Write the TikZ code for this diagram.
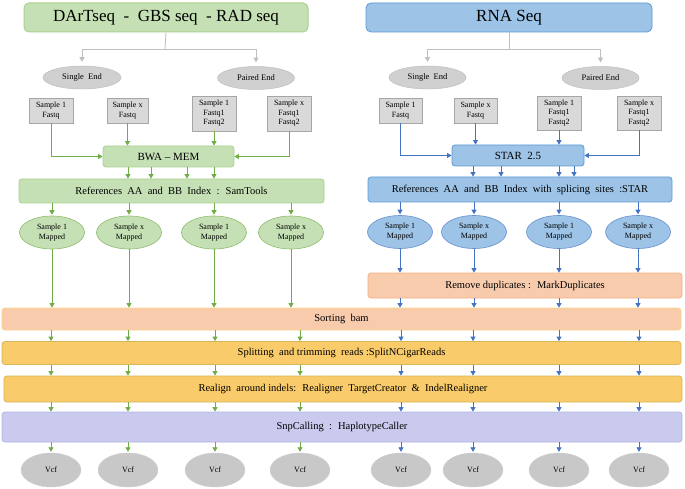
\documentclass[tikz,border=0pt]{standalone}
\usepackage{fontspec}
\setmainfont{Liberation Serif}
\usetikzlibrary{shapes.geometric,arrows.meta}
\definecolor{gfill}{HTML}{C5E0B4}
\definecolor{gline}{HTML}{A9D18E}
\definecolor{garrow}{HTML}{70AD47}
\definecolor{bfill}{HTML}{9DC3E6}
\definecolor{bline}{HTML}{5B9BD5}
\definecolor{barrow}{HTML}{4472C4}
\definecolor{sfill}{HTML}{D9D9D9}
\definecolor{sline}{HTML}{A6A6A6}
\definecolor{efill}{HTML}{D0D0D0}
\definecolor{eline}{HTML}{BFBFBF}
\definecolor{peach}{HTML}{F8CBAD}
\definecolor{peachline}{HTML}{F4B183}
\definecolor{gold}{HTML}{F9CB6B}
\definecolor{goldline}{HTML}{D6B656}
\definecolor{lav}{HTML}{C9CAEE}
\definecolor{lavline}{HTML}{B4B6E4}
\definecolor{vfill}{HTML}{C8C8C8}
\definecolor{grarrow}{HTML}{BFBFBF}
\tikzset{
  base/.style={inner sep=0pt, align=center, font=\fontsize{10.5}{12}\selectfont},
  titleG/.style={base, draw=gline, fill=gfill, line width=1pt, rounded corners=5pt, font=\fontsize{17}{20}\selectfont},
  titleB/.style={base, draw=bline, fill=bfill, line width=0.8pt, rounded corners=5pt, font=\fontsize{17}{20}\selectfont},
  boxG/.style={base, draw=gline, fill=gfill, line width=0.8pt, rounded corners=3pt},
  boxB/.style={base, draw=bline, fill=bfill, line width=0.8pt, rounded corners=3pt},
  endE/.style={base, ellipse, draw=eline, fill=efill, line width=0.5pt, font=\fontsize{8.5}{10}\selectfont},
  samp/.style={base, draw=sline, fill=sfill, line width=0.6pt, font=\fontsize{8}{9.5}\selectfont},
  mapG/.style={base, ellipse, draw=garrow!80, fill=gfill, line width=0.6pt, minimum width=65pt, minimum height=33pt, font=\fontsize{8}{10}\selectfont},
  mapB/.style={base, ellipse, draw=barrow!80, fill=bfill, line width=0.6pt, minimum width=65pt, minimum height=33pt, font=\fontsize{8}{10}\selectfont},
  bar/.style={base, rounded corners=3pt, line width=0.8pt},
  vcf/.style={base, ellipse, fill=vfill, draw=efill, line width=0.4pt, minimum width=60pt, minimum height=34pt, font=\fontsize{8}{10}\selectfont},
  garr/.style={draw=garrow, line width=0.8pt, -{Triangle[length=4.5pt,width=5pt]}},
  barr/.style={draw=barrow, line width=0.8pt, -{Triangle[length=4.5pt,width=5pt]}},
  grarr/.style={draw=grarrow, line width=0.8pt, -{Triangle[length=4.5pt,width=5pt]}},
  grline/.style={draw=grarrow, line width=0.8pt},
}
\begin{document}
\begin{tikzpicture}[x=1pt,y=-1pt]
\useasboundingbox[fill=white] (0,0) rectangle (685,489);
% titles
\node[titleG, minimum width=284pt, minimum height=29pt] (tL) at (166,17.5) {DArTseq \ - \ GBS seq \ - RAD seq};
\node[titleB, minimum width=286pt, minimum height=29pt] (tR) at (509,17.5) {RNA Seq};
% single/paired
\node[endE, minimum width=78pt, minimum height=23pt] (seL) at (82,77.5) {Single \ End};
\node[endE, minimum width=77pt, minimum height=23pt] (peL) at (256,78) {Paired End};
\node[endE, minimum width=77pt, minimum height=23pt] (seR) at (427.5,77.5) {Single \ End};
\node[endE, minimum width=77pt, minimum height=23pt] (peR) at (600.5,78) {Paired End};
\coordinate (jL) at (165,49);
\coordinate (jR) at (509,49);
\draw[grline] (tL.south) -- (jL);
\draw[grline] (tR.south) -- (jR);
\draw[grarr] (jL) -| ([yshift=4pt]seL.north);
\draw[grarr] (jL) -| ([yshift=4pt]peL.north);
\draw[grarr] (jR) -| ([yshift=4pt]seR.north);
\draw[grarr] (jR) -| ([yshift=4pt]peR.north);
% samples
\node[samp, minimum width=44pt, minimum height=25pt] (sL1) at (51,110.5) {Sample 1\\Fastq};
\node[samp, minimum width=41pt, minimum height=25pt] (sLx) at (127.5,110.5) {Sample x\\Fastq};
\node[samp, minimum width=44pt, minimum height=35pt] (sL1p) at (214,113.5) {Sample 1\\Fastq1\\Fastq2};
\node[samp, minimum width=44pt, minimum height=35pt] (sLxp) at (289,113.5) {Sample x\\Fastq1\\Fastq2};
\node[samp, minimum width=43pt, minimum height=25pt] (sR1) at (400.5,110.5) {Sample 1\\Fastq};
\node[samp, minimum width=43pt, minimum height=25pt] (sRx) at (475.5,110.5) {Sample x\\Fastq};
\node[samp, minimum width=44pt, minimum height=34pt] (sR1p) at (559,113) {Sample 1\\Fastq1\\Fastq2};
\node[samp, minimum width=44pt, minimum height=34pt] (sRxp) at (639,113) {Sample x\\Fastq1\\Fastq2};
% aligners
\node[boxG, minimum width=131pt, minimum height=21pt, font=\fontsize{11}{13}\selectfont] (bwa) at (168.5,156.5) {BWA -- MEM};
\node[boxB, minimum width=132pt, minimum height=21pt, font=\fontsize{11}{13}\selectfont] (star) at (518,155.5) {STAR \ 2.5};
\draw[garr] (sL1.south) |- (bwa.west);
\draw[garr] (sLx.south) -- (sLx.south |- bwa.north);
\draw[garr] (sL1p.south) -- (sL1p.south |- bwa.north);
\draw[garr] (sLxp.south) |- (bwa.east);
\draw[barr] (sR1.south) |- (star.west);
\draw[barr] (sRx.south) -- (sRx.south |- star.north);
\draw[barr] (sR1p.south) -- (sR1p.south |- star.north);
\draw[barr] (sRxp.south) |- (star.east);
% references
\node[boxG, minimum width=305pt, minimum height=24pt] (refL) at (171.5,191) {References \ AA \ and \ BB \ Index \ : \ SamTools};
\node[boxB, minimum width=304pt, minimum height=25pt] (refR) at (520,189.5) {References \ AA \ and \ BB \ Index \ with \ splicing \ sites \ :STAR};
\foreach \x in {128,151,187,214} \draw[garr] (bwa.south -| \x,0) -- (refL.north -| \x,0);
\foreach \x in {473,501,559,574} \draw[barr] (star.south -| \x,0) -- (refR.north -| \x,0);
% mapped
\node[mapG] (mL1) at (52,232.5) {Sample 1\\Mapped};
\node[mapG] (mL2) at (129,232.5) {Sample x\\Mapped};
\node[mapG] (mL3) at (214,232.5) {Sample 1\\Mapped};
\node[mapG] (mL4) at (291,232.5) {Sample x\\Mapped};
\node[mapB] (mR1) at (400,232) {Sample 1\\Mapped};
\node[mapB] (mR2) at (474,232) {Sample x\\Mapped};
\node[mapB] (mR3) at (559,232) {Sample 1\\Mapped};
\node[mapB] (mR4) at (638,232) {Sample x\\Mapped};
\foreach \n in {mL1,mL2,mL3,mL4} \draw[garr] (refL.south -| \n) -- ([yshift=1pt]\n.north);
\foreach \n in {mR1,mR2,mR3,mR4} \draw[barr] (refR.south -| \n) -- ([yshift=1pt]\n.north);
% remove duplicates
\node[bar, draw=peachline, fill=peach, minimum width=314pt, minimum height=25pt] (rmd) at (525,285.5) {Remove duplicates : \ MarkDuplicates};
\foreach \n in {mR1,mR2,mR3,mR4} \draw[barr] (\n.south) -- (rmd.north -| \n);
% bars
\node[bar, draw=gold!80, fill=peach, minimum width=679pt, minimum height=22pt] (sort) at (341.5,319) {Sorting \ bam};
\node[bar, draw=goldline, fill=gold, minimum width=679pt, minimum height=23pt] (split) at (341.5,353) {Splitting \ and trimming \ reads :SplitNCigarReads};
\node[bar, draw=goldline, fill=gold, minimum width=678pt, minimum height=26pt] (real) at (343,389) {Realign \ around indels: \ Realigner \ TargetCreator \ \& \ IndelRealigner};
\node[bar, draw=lavline, fill=lav, minimum width=680pt, minimum height=30pt] (snp) at (342,427) {SnpCalling \ : \ HaplotypeCaller};
\foreach \n in {mL1,mL2,mL3,mL4} \draw[garr] (\n.south) -- (sort.north -| \n);
\foreach \n in {mR1,mR2,mR3,mR4} \draw[barr] (rmd.south -| \n) -- (sort.north -| \n);
% vcf
\node[vcf] (v1) at (51,470) {Vcf};
\node[vcf] (v2) at (128,470) {Vcf};
\node[vcf] (v3) at (215,470) {Vcf};
\node[vcf] (v4) at (300,470) {Vcf};
\node[vcf] (v5) at (401,470) {Vcf};
\node[vcf] (v6) at (473,470) {Vcf};
\node[vcf] (v7) at (559,470) {Vcf};
\node[vcf] (v8) at (639,470) {Vcf};
\foreach \n in {v1,v2,v3,v4} {
  \draw[garr] (sort.south -| \n) -- (split.north -| \n);
  \draw[garr] (split.south -| \n) -- (real.north -| \n);
  \draw[garr] (real.south -| \n) -- (snp.north -| \n);
  \draw[garr] (snp.south -| \n) -- ([yshift=1pt]\n.north);
}
\foreach \n in {v5,v6,v7,v8} {
  \draw[barr] (sort.south -| \n) -- (split.north -| \n);
  \draw[barr] (split.south -| \n) -- (real.north -| \n);
  \draw[barr] (real.south -| \n) -- (snp.north -| \n);
  \draw[barr] (snp.south -| \n) -- ([yshift=1pt]\n.north);
}
\end{tikzpicture}
\end{document}
